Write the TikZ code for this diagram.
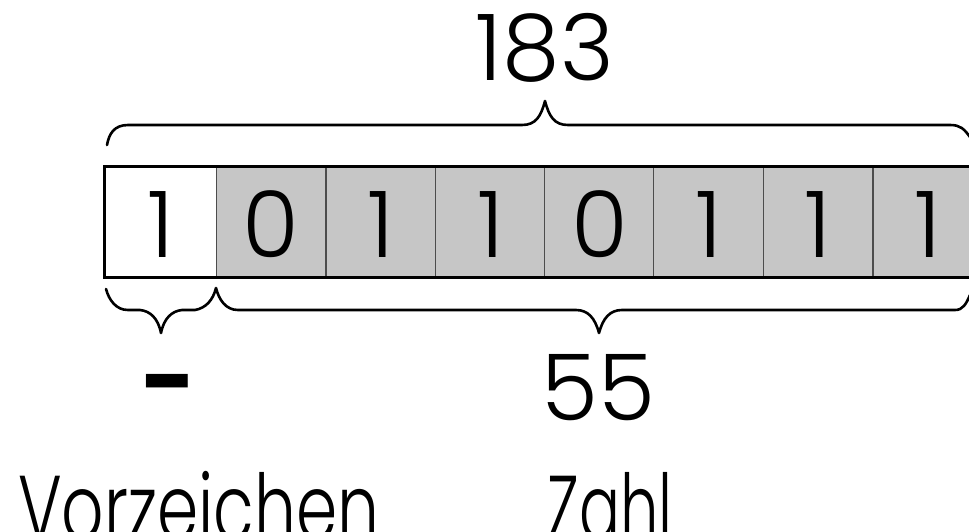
\documentclass[tikz,border=0pt]{standalone}
\usepackage{fontspec}
\setmainfont{Poppins Light}[BoldFont=Poppins Bold]
\begin{document}
\begin{tikzpicture}[x=1pt,y=-1pt,
  cell/.style={draw=black!70,line width=0.9pt,fill=gray!45,minimum width=109.7pt,minimum height=110pt,inner sep=0pt,text height=70pt,text depth=0pt,font=\fontsize{92}{92}\selectfont},
  brace/.style={line width=2.6pt,line join=round,line cap=round},
  lbl/.style={font=\fontsize{92}{92}\selectfont,anchor=base,inner sep=0pt}]
\useasboundingbox (0,0) rectangle (969,531);
\clip (0,0) rectangle (969,531);
% cells
\node[cell,fill=white,minimum width=111pt] (c0) at (160.5,222) {1};
\node[cell] (c1) at (271,222) {0};
\node[cell] (c2) at (381,222) {1};
\node[cell] (c3) at (490.5,222) {1};
\node[cell] (c4) at (599.5,222) {0};
\node[cell] (c5) at (708.5,222) {1};
\node[cell] (c6) at (818,222) {1};
\node[cell] (c7) at (928,222) {1};
\draw[line width=3pt] (c0.north west) rectangle (c7.south east);
% labels
\node[lbl] (t183) at (545,80) {183};
\node[lbl] (t55) at (598,420) {55};
\node[lbl,font=\fontsize{95}{95}\selectfont\bfseries] (minus) at (169,414) {-};
\node[lbl,anchor=base west] (vz) at (18,540) {\scalebox{0.72}[1]{Vorzeichen}};
\node[lbl,anchor=base west] (zahl) at (547,540) {\scalebox{0.66}[1]{Zahl}};
% top brace
\draw[brace] (107,145) .. controls (109,134) and (114,125) .. (128,125)
  -- (522,125) .. controls (536,125) and (541,116) .. (545,101)
  .. controls (549,116) and (554,125) .. (568,125)
  -- (950,125) .. controls (960,125) and (964,128) .. (972,140);
% bottom braces
\draw[brace] (106,289) .. controls (109,300) and (116,310) .. (128,310)
  -- (140,310) .. controls (150,311) and (158,318) .. (161,333)
  .. controls (164,318) and (172,311) .. (182,310)
  -- (195,310) .. controls (206,308) and (213,300) .. (216,288)
  .. controls (219,300) and (226,310) .. (238,310)
  -- (576,310) .. controls (588,310) and (595,318) .. (599,333)
  .. controls (603,318) and (610,310) .. (622,310)
  -- (955,310) .. controls (963,310) and (966,304) .. (970,295);
\end{tikzpicture}
\end{document}
